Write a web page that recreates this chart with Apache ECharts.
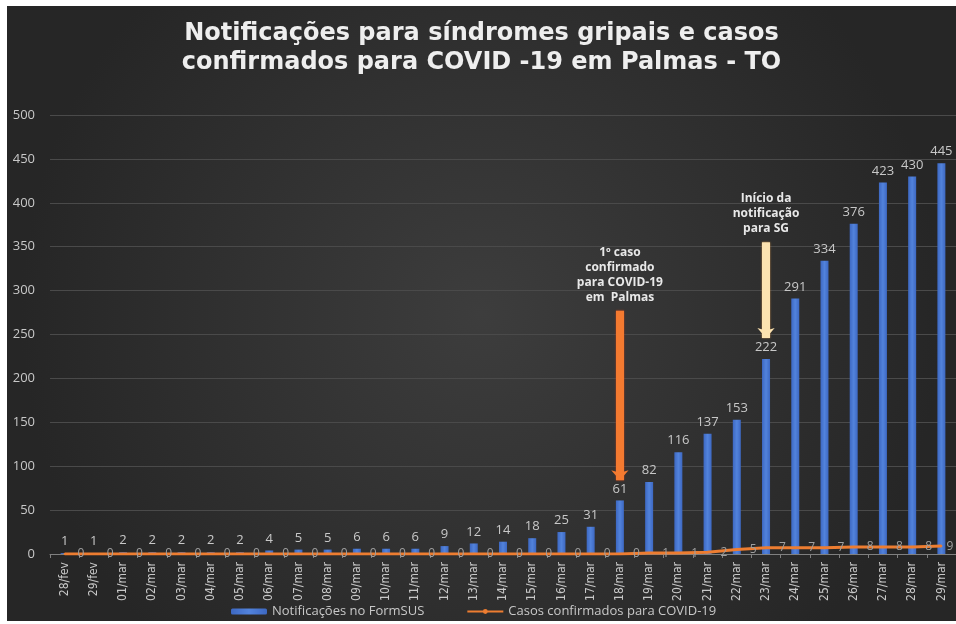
<!DOCTYPE html>
<html lang="pt">
<head>
    <meta charset="utf-8">
</head>
<body style="margin: 0; background: #ffffff">
<div id="container" style="position: absolute; left: 7px; top: 6px; width: 949px; height: 615px"></div>
<script type="text/javascript" src="https://cdn.jsdelivr.net/npm/echarts@6/dist/echarts.min.js"></script>
<script type="text/javascript">

    const days = ['28/fev', '29/fev', '01/mar', '02/mar', '03/mar', '04/mar', '05/mar', '06/mar',
        '07/mar', '08/mar', '09/mar', '10/mar', '11/mar', '12/mar', '13/mar', '14/mar', '15/mar',
        '16/mar', '17/mar', '18/mar', '19/mar', '20/mar', '21/mar', '22/mar', '23/mar', '24/mar',
        '25/mar', '26/mar', '27/mar', '28/mar', '29/mar'];

    const notificacoes = [1, 1, 2, 2, 2, 2, 2, 4, 5, 5, 6, 6, 6, 9, 12, 14, 18, 25, 31, 61,
        82, 116, 137, 153, 222, 291, 334, 376, 423, 430, 445];

    const confirmados = [0, 0, 0, 0, 0, 0, 0, 0, 0, 0, 0, 0, 0, 0, 0, 0, 0, 0, 0, 0,
        1, 1, 2, 5, 7, 7, 7, 8, 8, 8, 9];

    // annotation arrows: category, value where the arrow starts, value where it points
    const arrowDays = ['18/mar', '23/mar'];
    const arrowFrom = [277, 355];
    const arrowTo = [84, 246];
    const arrowTexts = ['1º caso\nconfirmado\npara COVID-19\nem  Palmas', 'Início da\nnotificação\npara SG'];
    const arrowColors = ['#f47a30', '#fde3b0'];
    const arrowEdges = ['#c8401a', '#d99a50'];

    const seriesNames = ['Notificações no FormSUS', 'Casos confirmados para COVID-19'];

    var dom = document.getElementById('container');
    var myChart = echarts.init(dom, null, {renderer: 'canvas'});

    const labelGray = '#c8c8c8';
    const font = "'Open Sans', 'DejaVu Sans', sans-serif";

    const arrows = arrowDays.map((d, i) => ([
        {
            coord: [d, arrowFrom[i]],
            lineStyle: {
                color: arrowColors[i], width: 8, type: 'solid',
                shadowColor: arrowEdges[i], shadowBlur: 2
            },
            label: {
                show: true,
                position: 'start',
                distance: 6,
                formatter: arrowTexts[i],
                color: '#e8e8e8',
                fontSize: 12,
                fontWeight: 'bold',
                lineHeight: 15,
                fontFamily: font
            }
        },
        {coord: [d, arrowTo[i]]}
    ]));

    // last point label sits closer so it stays inside the picture
    const confirmadosData = confirmados.map((v, i) =>
        i === confirmados.length - 1 ? {value: v, label: {distance: 4}} : v);

    const option = {
        backgroundColor: {
            type: 'radial', x: 0.5, y: 0.5, r: 0.75,
            colorStops: [
                {offset: 0, color: '#3d3d3d'},
                {offset: 1, color: '#262626'}
            ]
        },
        animation: false,
        title: {
            text: 'Notificações para síndromes gripais e casos\nconfirmados para COVID -19 em Palmas - TO',
            left: 'center',
            top: 8,
            textStyle: {
                color: '#eeeeee',
                fontSize: 24,
                fontWeight: 'bold',
                lineHeight: 29,
                fontFamily: "'DejaVu Sans', sans-serif"
            }
        },
        legend: {
            data: seriesNames,
            left: 219,
            top: 594,
            itemWidth: 36,
            itemHeight: 6,
            itemGap: 42,
            textStyle: {color: labelGray, fontSize: 13, fontFamily: font}
        },
        grid: {
            left: 43,
            top: 109,
            width: 910,
            bottom: 67
        },
        xAxis: {
            type: 'category',
            data: days,
            axisLine: {lineStyle: {color: '#808080', width: 1}},
            axisTick: {show: true, length: 4, lineStyle: {color: '#808080'}},
            axisLabel: {
                rotate: 90,
                interval: 0,
                margin: 8,
                color: labelGray,
                fontSize: 12,
                fontFamily: "'Liberation Sans Narrow', 'DejaVu Sans Condensed', sans-serif"
            }
        },
        yAxis: {
            type: 'value',
            min: 0,
            max: 500,
            interval: 50,
            axisLine: {show: false},
            axisTick: {show: false},
            splitLine: {lineStyle: {color: '#4a4a4a', width: 1}},
            axisLabel: {color: labelGray, fontSize: 13, margin: 15, fontFamily: font}
        },
        series: [
            {
                name: seriesNames[0],
                type: 'bar',
                data: notificacoes,
                barWidth: 8,
                itemStyle: {
                    color: {
                        type: 'linear', x: 0, y: 0, x2: 1, y2: 0,
                        colorStops: [
                            {offset: 0, color: '#3d68c2'},
                            {offset: 0.5, color: '#5283dc'},
                            {offset: 1, color: '#3d68c2'}
                        ]
                    }
                },
                label: {
                    show: true,
                    position: 'top',
                    distance: 5,
                    color: labelGray,
                    fontSize: 13,
                    fontFamily: font
                },
                markLine: {
                    silent: true,
                    animation: false,
                    symbol: ['none', 'arrow'],
                    symbolSize: [13, 10],
                    data: arrows
                },
                z: 2
            },
            {
                name: seriesNames[1],
                type: 'line',
                data: confirmadosData,
                symbol: 'circle',
                symbolSize: 2,
                lineStyle: {color: '#ed7d31', width: 3},
                itemStyle: {color: '#ed7d31'},
                label: {
                    show: true,
                    position: 'right',
                    distance: 12,
                    color: '#a0a0a0',
                    fontSize: 12,
                    fontFamily: font
                },
                z: 3
            }
        ]
    };

    myChart.setOption(option);

    window.addEventListener('resize', myChart.resize);

</script>
</body>
</html>
